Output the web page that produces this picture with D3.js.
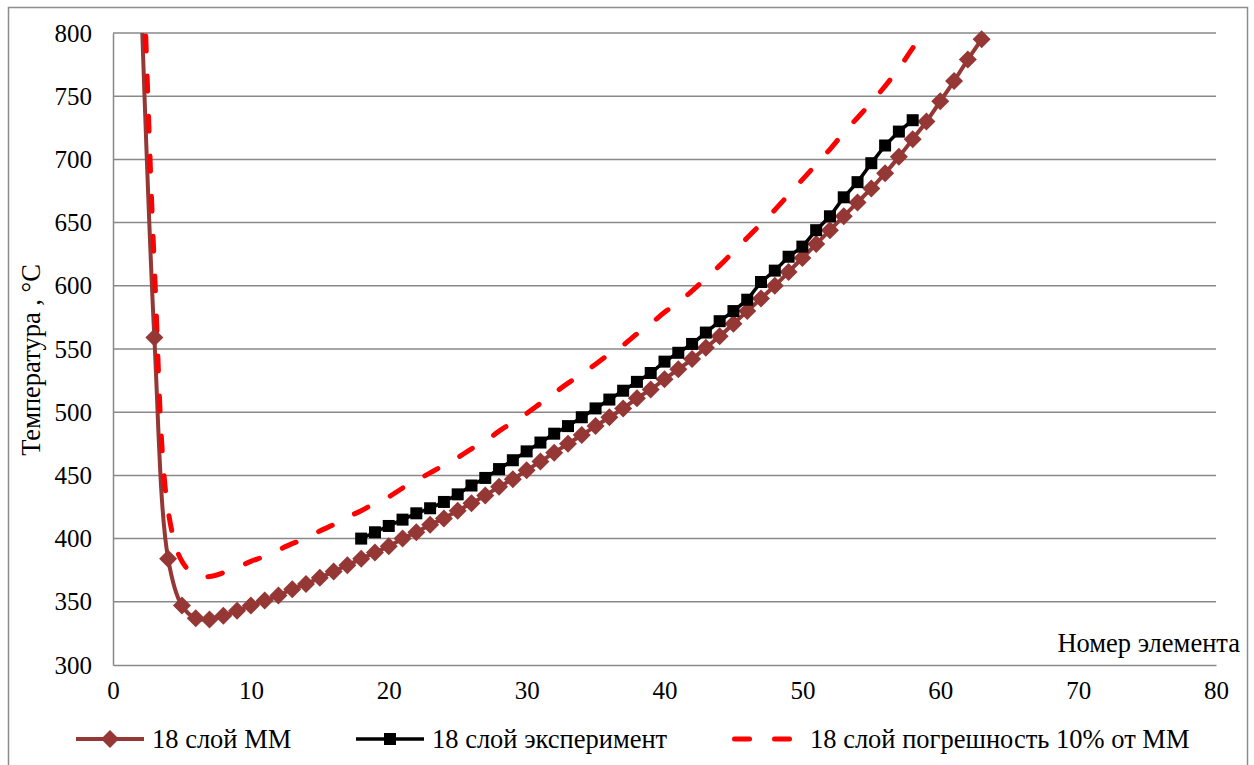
<!DOCTYPE html>
<html>
<head>
<meta charset="utf-8">
<script src="https://cdn.jsdelivr.net/npm/d3@7"></script>
<style>
  body { margin: 0; background: #fff; }
  text { font-family: "Liberation Serif", "Times New Roman", serif; fill: #000; }
</style>
</head>
<body>
<script>
// element numbers for the model run start at 2, experiment at 18
var mmStart = 2
var mmTemp = [840, 559, 384, 347, 337, 336, 339, 343, 347, 351,
  355, 360, 364, 369, 374, 379, 384, 389, 394, 400,
  405, 411, 416, 422, 428, 434, 441, 447, 454, 461,
  468, 475, 482, 489, 496, 503, 511, 518, 526, 534,
  542, 551, 560, 570, 580, 590, 600, 611, 622, 633,
  644, 655, 666, 677, 689, 702, 716, 730, 746, 762,
  779, 795]
var errTemp = [924, 615, 422, 382, 371, 370, 373, 377, 382, 386,
  391, 396, 400, 406, 411, 417, 422, 428, 433, 440,
  446, 452, 458, 464, 471, 477, 485, 492, 499, 507,
  515, 523, 530, 538, 546, 553, 562, 570, 579, 587,
  596, 606, 616, 627, 638, 649, 660, 672, 684, 696,
  708, 721, 733, 745, 758, 772, 788, 803, 821, 838,
  857, 875]
var expStart = 18
var expTemp = [400, 405, 410, 415, 420, 424, 429, 435, 442, 448,
  455, 462, 469, 476, 483, 489, 496, 503, 510, 517,
  524, 531, 540, 547, 554, 563, 572, 580, 589, 603,
  612, 623, 631, 644, 655, 670, 682, 697, 711, 722,
  731]
var xTicks = [0, 10, 20, 30, 40, 50, 60, 70, 80]
var yTicks = [300, 350, 400, 450, 500, 550, 600, 650, 700, 750, 800]
var seriesNames = ['18 слой ММ', '18 слой эксперимент', '18 слой погрешность 10% от ММ']

var W = 1254, H = 765
var brown = '#953735', grid = '#898989'

var svg = d3.select('body').append('svg')
  .attr('width', W)
  .attr('height', H)

// chart border
svg.append('rect')
  .attr('x', 8.5).attr('y', 7.5)
  .attr('width', 1239).attr('height', 780)
  .attr('fill', 'none')
  .attr('stroke', '#8c8c8c')
  .attr('stroke-width', 1.5)

var x = d3.scaleLinear().domain([0, 80]).range([113, 1216])
var y = d3.scaleLinear().domain([300, 800]).range([665, 33])

// gridlines
svg.append('g')
  .selectAll('line')
  .data(yTicks.filter(function (d) { return d > 300 }))
  .enter().append('line')
  .attr('x1', x(0)).attr('x2', x(80))
  .attr('y1', function (d) { return y(d) })
  .attr('y2', function (d) { return y(d) })
  .attr('stroke', grid)
  .attr('stroke-width', 1.5)

// axes
var yAxis = d3.axisLeft(y).tickValues(yTicks).tickSize(0).tickPadding(21)
var xAxis = d3.axisBottom(x).tickValues(xTicks).tickSize(0).tickPadding(16)

var gy = svg.append('g').attr('transform', 'translate(' + x(0) + ',0)').call(yAxis)
var gx = svg.append('g').attr('transform', 'translate(0,' + y(300) + ')').call(xAxis)
;[gx, gy].forEach(function (g) {
  g.select('.domain').attr('stroke', grid).attr('stroke-width', 1.5)
  g.selectAll('text').style('font-size', '25px').attr('fill', '#000')
})

svg.append('text')
  .attr('transform', 'translate(31,360) rotate(-90)')
  .attr('text-anchor', 'middle')
  .attr('dy', '.35em')
  .style('font-size', '26.5px')
  .text('Температура , °С')

svg.append('text')
  .attr('x', 1240).attr('y', 652)
  .attr('text-anchor', 'end')
  .style('font-size', '26.5px')
  .text('Номер элемента')

// clip lines to plot area
svg.append('clipPath').attr('id', 'plot')
  .append('rect')
  .attr('x', x(0)).attr('y', y(800))
  .attr('width', x(80) - x(0)).attr('height', y(300) - y(800))

var mm = mmTemp.map(function (v, i) { return [mmStart + i, v] })
var err = errTemp.map(function (v, i) { return [mmStart + i, v] })
var exp = expTemp.map(function (v, i) { return [expStart + i, v] })

var smooth = d3.line()
  .x(function (d) { return x(d[0]) })
  .y(function (d) { return y(d[1]) })
  .curve(d3.curveCatmullRom.alpha(0.5))
var straight = d3.line()
  .x(function (d) { return x(d[0]) })
  .y(function (d) { return y(d[1]) })

var lines = svg.append('g').attr('clip-path', 'url(#plot)')

lines.append('path')
  .attr('d', smooth(mm))
  .attr('fill', 'none')
  .attr('stroke', brown)
  .attr('stroke-width', 4)

var diamond = 'M0,-9L9,0L0,9L-9,0Z'
svg.append('g')
  .selectAll('path')
  .data(mm.filter(function (d) { return d[1] <= 800 }))
  .enter().append('path')
  .attr('d', diamond)
  .attr('transform', function (d) { return 'translate(' + x(d[0]) + ',' + y(d[1]) + ')' })
  .attr('fill', brown)

lines.append('path')
  .attr('d', straight(exp))
  .attr('fill', 'none')
  .attr('stroke', '#000')
  .attr('stroke-width', 3.5)

svg.append('g')
  .selectAll('rect')
  .data(exp)
  .enter().append('rect')
  .attr('x', function (d) { return x(d[0]) - 6 })
  .attr('y', function (d) { return y(d[1]) - 6 })
  .attr('width', 12).attr('height', 12)
  .attr('fill', '#000')

lines.append('path')
  .attr('d', smooth(err))
  .attr('fill', 'none')
  .attr('stroke', '#ff0000')
  .attr('stroke-width', 5)
  .attr('stroke-linecap', 'round')
  .attr('stroke-dasharray', '15,25')

// legend
var ly = 739
var leg = svg.append('g')
leg.append('line').attr('x1', 76).attr('x2', 144).attr('y1', ly).attr('y2', ly)
  .attr('stroke', brown).attr('stroke-width', 4)
leg.append('path').attr('d', diamond).attr('transform', 'translate(110,' + ly + ')').attr('fill', brown)
leg.append('line').attr('x1', 356).attr('x2', 424).attr('y1', ly).attr('y2', ly)
  .attr('stroke', '#000').attr('stroke-width', 3.5)
leg.append('rect').attr('x', 384).attr('y', ly - 6).attr('width', 12).attr('height', 12).attr('fill', '#000')
leg.append('line').attr('x1', 734.5).attr('x2', 789.5).attr('y1', ly).attr('y2', ly)
  .attr('stroke', '#ff0000').attr('stroke-width', 5)
  .attr('stroke-linecap', 'round').attr('stroke-dasharray', '15,25')

leg.selectAll('text')
  .data(seriesNames)
  .enter().append('text')
  .attr('x', function (d, i) { return [152, 432, 810][i] })
  .attr('y', ly)
  .attr('dy', '.35em')
  .style('font-size', '26.5px')
  .text(function (d) { return d })
</script>
</body>
</html>
